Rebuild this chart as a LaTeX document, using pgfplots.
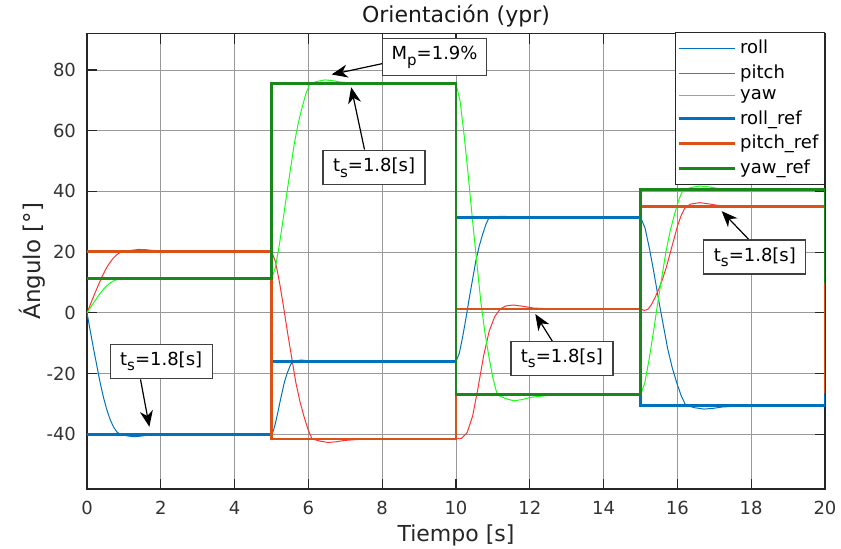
\documentclass[border=0pt]{standalone}
\usepackage{fontspec}
\setmainfont{DejaVu Sans}
\usepackage{pgfplots}
\pgfplotsset{compat=1.18}
\usetikzlibrary{arrows.meta}

\definecolor{mblue}{rgb}{0,0.447,0.741}
\definecolor{morange}{rgb}{0.851,0.325,0.098}
\definecolor{mred}{rgb}{1,0.2,0.2}
\definecolor{mgreen}{rgb}{0.1,1,0.1}
\definecolor{dgreen}{rgb}{0.1,0.53,0.1}

\tikzset{
  anbox/.style={draw=black!75, fill=white, line width=0.6pt, inner sep=0pt,
    minimum width=51pt, minimum height=17pt, font=\fontsize{9}{10}\selectfont},
  anarrow/.style={line width=0.6pt, -{Stealth[length=8pt,width=6.5pt,inset=2.5pt]}},
}
\newcommand{\ts}{t\raisebox{-0.55ex}{\fontsize{7.5}{8}\selectfont s}=1.8[s]}

\begin{document}
\begin{tikzpicture}
\begin{axis}[
  name=ax,
  scale only axis,
  width=369pt, height=227.75pt,
  xmin=0, xmax=20, ymin=-58, ymax=92,
  xtick={0,2,4,6,8,10,12,14,16,18,20},
  xticklabels={0,2,4,6,8,10,12,14,16,18,20},
  ytick={-40,-20,0,20,40,60,80},
  yticklabels={-40,-20,0,20,40,60,80},
  grid=major,
  major grid style={black!40, line width=0.4pt},
  axis line style={black!85, line width=0.6pt},
  tick style={black!85, line width=0.6pt},
  tick align=inside,
  major tick length=5pt,
  tick label style={font=\fontsize{9}{10}\selectfont, text=black!80},
  xticklabel style={yshift=-2.5pt},
  yticklabel style={xshift=-2pt},
  every axis title shift=0pt,
  title={Orientación (ypr)},
  title style={font=\fontsize{11}{13}\selectfont, text=black!90, at={(axis description cs:0.5,1.038)}, anchor=center},
  xlabel={Tiempo [s]},
  xlabel style={font=\fontsize{11}{13}\selectfont, text=black!85, at={(axis description cs:0.5,-0.101)}, anchor=center},
  ylabel={Ángulo [°]},
  ylabel style={font=\fontsize{11.5}{13}\selectfont, text=black!85, at={(axis description cs:-0.0745,0.5)}, anchor=center},
  legend style={at={(1,1)}, anchor=north east, yshift=1pt, draw=black!85, line width=0.6pt,
    font=\fontsize{9}{10}\selectfont, cells={anchor=west}, row sep=0pt, inner xsep=1pt, inner ysep=2pt},
  legend image code/.code={\draw[#1] (0pt,0pt) -- (28pt,0pt);},
]
% responses
\addplot[mblue, line width=0.5pt] coordinates {
(0,0) (0.09,-6) (0.18,-12) (0.27,-17.6) (0.36,-23.2) (0.45,-28) (0.54,-32) (0.63,-35.2) (0.72,-37.6) (0.81,-39.2) (0.9,-40) (1.08,-40.48) (1.26,-40.76) (1.44,-40.6) (1.62,-40.32) (1.98,-40.08) (2.5,-40) (5,-40)
(5.057,-38.63) (5.114,-35.92) (5.171,-32.8) (5.228,-29.44) (5.285,-26.32) (5.342,-23.2) (5.399,-20.8) (5.456,-18.88) (5.513,-17.2) (5.57,-16) (5.684,-15.71) (5.798,-15.54) (5.912,-15.64) (6.026,-15.81) (6.254,-15.95) (6.6,-16) (10,-16)
(10.09,-13.29) (10.18,-7.92) (10.27,-1.75) (10.36,4.9) (10.45,11.08) (10.54,17.25) (10.63,22) (10.72,25.8) (10.81,29.13) (10.9,31.5) (11.08,31.7) (11.26,31.8) (11.44,31.7) (11.62,31.6) (11.98,31.5) (15,31.5)
(15.123,27.97) (15.246,20.96) (15.369,12.9) (15.492,4.22) (15.615,-3.84) (15.738,-11.9) (15.861,-18.1) (15.984,-23.06) (16.107,-27.4) (16.23,-30.5) (16.476,-31.24) (16.722,-31.68) (16.968,-31.43) (17.214,-31.0) (17.706,-30.62) (18.2,-30.5) (20,-30.5)
};
\addlegendentry{roll}
\addplot[mred, line width=0.5pt] coordinates {
(0,0) (0.1,3.05) (0.2,6.09) (0.3,8.93) (0.4,11.77) (0.5,14.21) (0.6,16.24) (0.7,17.86) (0.8,19.08) (0.9,19.89) (1.0,20.3) (1.2,20.6) (1.4,20.9) (1.6,20.8) (1.8,20.55) (2.2,20.35) (2.6,20.3) (5,20.3)
(5.11,16.78) (5.22,9.79) (5.33,1.76) (5.44,-6.89) (5.55,-14.93) (5.66,-22.96) (5.77,-29.14) (5.88,-34.08) (5.99,-38.41) (6.1,-41.5) (6.32,-42.24) (6.54,-42.67) (6.76,-42.43) (6.98,-41.99) (7.42,-41.62) (8,-41.5) (10,-41.5)
(10.15,-41.3) (10.3,-39.5) (10.45,-34) (10.6,-24.5) (10.75,-14) (10.9,-6) (11.05,-1.2) (11.2,1.3) (11.35,2.3) (11.55,2.6) (11.8,2.2) (12.1,1.6) (12.5,1.35) (15,1.3)
(15.1,0.8) (15.2,1.2) (15.3,2.8) (15.4,5.2) (15.5,8.0) (15.6,11.2) (15.7,15.0) (15.8,19.5) (15.9,24.0) (16.0,28.5) (16.1,32.0) (16.2,34.5) (16.35,35.8) (16.6,36.3) (16.85,35.9) (17.1,35.4) (17.5,35.1) (18,35) (20,35)
};
\addlegendentry{pitch}
\addplot[mgreen, line width=0.5pt] coordinates {
(0,0) (0.09,1.68) (0.18,3.36) (0.27,4.93) (0.36,6.5) (0.45,7.84) (0.54,8.96) (0.63,9.86) (0.72,10.53) (0.81,10.98) (0.9,11.2) (1.08,11.33) (1.26,11.41) (1.44,11.37) (1.62,11.29) (1.98,11.22) (2.4,11.2) (5,11.2)
(5.104,14.87) (5.208,22.13) (5.312,30.49) (5.416,39.49) (5.52,47.85) (5.624,56.21) (5.728,62.64) (5.832,67.78) (5.936,72.29) (6.04,75.5) (6.248,76.27) (6.456,76.72) (6.664,76.46) (6.872,76.01) (7.288,75.63) (7.8,75.5) (10,75.5)
(10.112,69.66) (10.224,58.07) (10.336,44.75) (10.448,30.4) (10.56,17.07) (10.672,3.75) (10.784,-6.5) (10.896,-14.7) (11.008,-21.88) (11.12,-27) (11.344,-28.23) (11.568,-28.95) (11.792,-28.54) (12.016,-27.82) (12.464,-27.21) (13,-27) (15,-27)
(15.115,-23.15) (15.23,-15.52) (15.345,-6.75) (15.46,2.7) (15.575,11.48) (15.69,20.25) (15.805,27) (15.92,32.4) (16.035,37.13) (16.15,40.5) (16.38,41.31) (16.61,41.78) (16.84,41.51) (17.07,41.04) (17.53,40.64) (18,40.5) (20,40.5)
};
\addlegendentry{yaw}
% references
\addplot[mblue, line width=1.4pt] coordinates {
(0,-40) (5,-40) (5,-16) (10,-16) (10,31.5) (15,31.5) (15,-30.5) (20,-30.5) (20,-20)
};
\addlegendentry{roll\_ref}
\addplot[morange, line width=1.4pt] coordinates {
(0,20.3) (5,20.3) (5,-41.5) (10,-41.5) (10,1.3) (15,1.3) (15,35) (20,35) (20,-26.4)
};
\addlegendentry{pitch\_ref}
\addplot[dgreen, line width=1.4pt] coordinates {
(0,11.2) (5,11.2) (5,75.5) (10,75.5) (10,-27) (15,-27) (15,40.5) (20,40.5) (20,9.8)
};
\addlegendentry{yaw\_ref}

% annotations
\draw[anarrow] (axis cs:8.01,82.1) -- (axis cs:6.63,78.5);
\draw[anarrow] (axis cs:7.52,53.8) -- (axis cs:7.16,74.3);
\draw[anarrow] (axis cs:1.45,-21.9) -- (axis cs:1.69,-37.5);
\draw[anarrow] (axis cs:12.62,-9.5) -- (axis cs:12.15,-0.4);
\draw[anarrow] (axis cs:17.94,24.1) -- (axis cs:17.2,33.5);
\node[anbox, minimum width=52pt, minimum height=18.5pt] at (axis cs:9.42,84.2) {M\raisebox{-0.55ex}{\fontsize{7.5}{8}\selectfont p}=1.9\%};
\node[anbox] at (axis cs:7.78,47.8) {\ts};
\node[anbox] at (axis cs:2.01,-15.9) {\ts};
\node[anbox] at (axis cs:12.87,-14.9) {\ts};
\node[anbox] at (axis cs:18.10,18.4) {\ts};
\end{axis}
\pgfresetboundingbox
\path ([shift={(-43.5pt,-29.5pt)}]ax.south west) rectangle ([shift={(8pt,16.75pt)}]ax.north east);
\end{tikzpicture}
\end{document}
